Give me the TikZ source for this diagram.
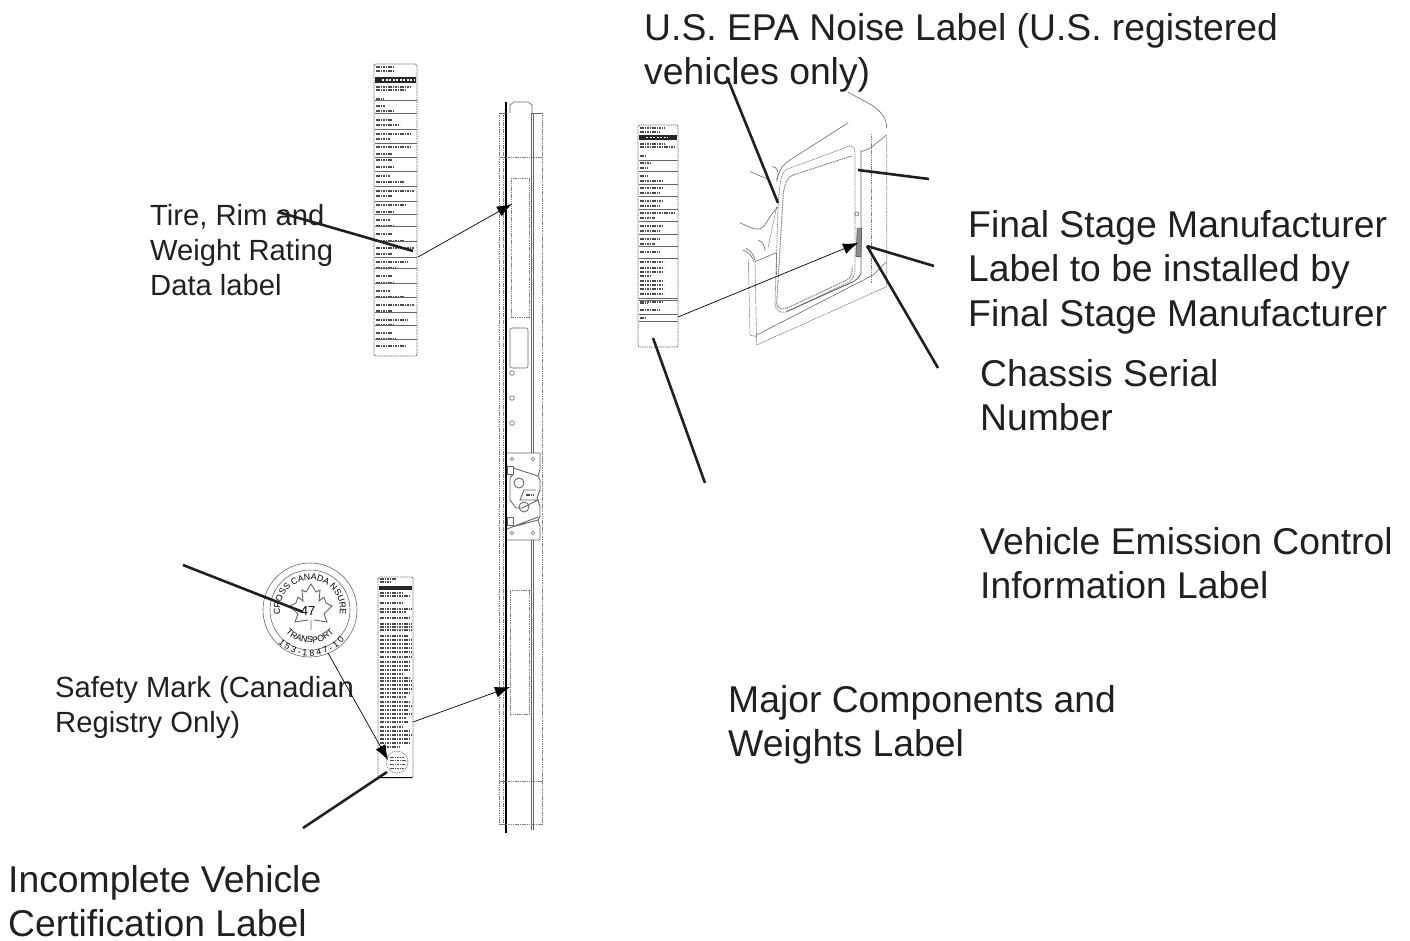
\documentclass[tikz,border=0pt]{standalone}
\usepackage{fontspec}
\setmainfont{Liberation Sans}
\usetikzlibrary{arrows.meta,decorations.text}
\definecolor{inkgrey}{HTML}{666666}
\definecolor{leaderblack}{HTML}{231F20}

\begin{document}
\begin{tikzpicture}[
  x=1pt, y=-1pt,
  biglbl/.style={anchor=north west, inner sep=0pt, align=left, font=\fontsize{37.3}{44.5}\selectfont, text=leaderblack},
  smalllbl/.style={anchor=north west, inner sep=0pt, align=left, font=\fontsize{29.2}{35}\selectfont, text=leaderblack},
  leader/.style={draw=leaderblack, line width=2.6pt},
  pointer/.style={draw=black, line width=.7pt, -{Latex[length=15pt,width=11pt]}},
  hair/.style={draw=inkgrey, line width=.6pt},
  dotline/.style={draw=black!50, line width=.7pt, dash pattern=on 1.5pt off .8pt},
  card/.style={draw=inkgrey, line width=.8pt, dash pattern=on 1.5pt off .8pt, rounded corners=2pt},
  inkmark/.style={draw=black!70, line width=1.5pt, dash pattern=on 1.6pt off .8pt},
  stamptxt/.style={decorate, decoration={text along path, text align=center, text={|\fontsize{8.8}{10}\selectfont|#1}}}
]
  \useasboundingbox (0,0) rectangle (1410,941);

  % tire, rim and weight card
  \draw[card] (374,64) rectangle (417,356);
  \fill[black!85] (375,77) rectangle (416,83);
  \draw[white, line width=1.6pt, dash pattern=on 2pt off 1.5pt] (382,80) -- (414,80);
  \foreach \cy/\cx in {67/395,71/393,87/410,90/405,99/384,106/385,111/394,120/392,125/400,134/412,139/390,147/410,154/392,160/392,167/394,176/390,182/404,191/414,196/392,205/406,212/394,220/390,226/394,234/392,241/404,248/414,254/392,262/408,268/396,276/392,283/394,291/390,297/404,305/414,311/392,320/408,325/394,333/392,339/396,346/405}
    \draw[inkmark] (376,\cy) -- (\cx,\cy);
  \foreach \ry in {100,113,129,143,157,171,186,201,214,226,241,257,268,283,297,312,325,339}
    \draw[hair] (375,\ry) -- (417,\ry);

  % major components card
  \draw[card] (638,125) rectangle (678,347);
  \fill[black!85] (639,135) rectangle (677,140);
  \draw[white, line width=1.2pt, dash pattern=on 2pt off 1.5pt] (646,137.5) -- (668,137.5);
  \foreach \cy/\cx in {128/665,132/660,144/665,147/674,156/645,163/651,168/648,176/648,181/662,188/662,193/660,201/663,206/660,213/675,218/655,226/662,231/660,239/660,244/655,252/660,262/664,268/664,272/664,276/650,281/664,285/664,289/664,294/664,302/662,303/648,310/660,318/646}
    \draw[inkmark] (640,\cy) -- (\cx,\cy);
  \foreach \ry in {160,171,184,196,209,221,234,246,258,298,300,314,321}
    \draw[hair] (639,\ry) -- (678,\ry);

  % incomplete vehicle card
  \draw[card] (378,577) rectangle (413,778);
  \fill[black!85] (379,586) rectangle (412,590);
  \foreach \cy/\cx in {579/396,582/392,593/403,596/411,603/404,609/412,612/406,618/411,624/412,627/412,630/412,636/408,640/412,644/412,648/412,652/412,657/412,662/410,666/411,670/411,674/404,678/411,681/412,685/412,689/412,693/410,697/406,702/410,706/412,710/408,714/412,718/406,722/408,727/404,731/410,735/412,739/410,743/410,747/400}
    \draw[inkmark] (380,\cy) -- (\cx,\cy);
  \draw[dotline, fill=white] (397,762) circle (11);
  \foreach \cy/\cx in {757/404,760/406,764/405,768/404}
    \draw[inkmark, line width=.8pt] (390,\cy) -- (\cx,\cy);
  \draw[draw=black, line width=1pt] (380,777) -- (412,777);

  % side rail
  \draw[line width=2pt] (506,102) -- (506,833);
  \foreach \rx in {499,503}
    \draw[dotline] (\rx,113) -- (\rx,824);
  \draw[hair] (531,113) -- (531,453) (531,540) -- (531,830);
  \draw[hair] (533,113) -- (533,453) (533,540) -- (533,830);
  \draw[dotline] (542,113) -- (542,824);
  \draw[hair] (510,113) -- (510,105) -- (514,102) -- (528,102) -- (532,105) -- (532,113);
  \draw[hair] (499,113) -- (506,113) (532,113) -- (542,113);
  \draw[dotline] (499,157) -- (542,157);
  \draw[dotline] (499,781) -- (542,781);
  \draw[dotline] (499,824) -- (542,824);
  \draw[dotline] (511,178) rectangle (529,317);
  \draw[hair, rounded corners=2pt] (510,328) rectangle (528,368);
  \draw[dotline] (510,590) rectangle (529,714);
  \foreach \hy in {373,398,423}
    \draw[hair] (512,\hy) circle (2.3);

  % hinge bracket on the rail
  \draw[hair, line width=.9pt] (507,453) -- (540,453) -- (540,470) -- (538,476) -- (507,466)
    (538,476) -- (540,480) -- (540,490) -- (537,498) -- (540,506) -- (540,516) -- (538,520) -- (512,527)
    (507,529) -- (538,517) (538,520) -- (540,526) -- (540,540) -- (507,540);
  \draw[hair, line width=.9pt] (510,478) -- (514,473) (510,478) -- (510,500) -- (516,508) -- (522,508) -- (530,504) -- (538,500) -- (520,500) -- (524,490) -- (536,490);
  \draw[hair, line width=.9pt] (519,483) circle (5);
  \draw[hair, line width=.9pt] (524,507) circle (5);
  \draw[hair, fill=white] (507,466) rectangle (513,474);
  \draw[hair, fill=white] (507,517) rectangle (513,525);
  \foreach \bx/\by in {512/459,533/459,512/533,533/533}
    \draw[hair] (\bx,\by) circle (1.8);
  \draw[inkmark, line width=1.2pt] (526,495) -- (534,495);

  % door and window
  \begin{scope}[shift={(620,60)}, x=.3333pt, y=-.3333pt]
    \draw[hair] (685,97) -- (755,135) .. controls (785,155) and (800,175) .. (800,205);
    \draw[hair] (685,188) -- (510,300) .. controls (490,312) and (480,325) .. (470,360);
    \draw[hair] (455,320) .. controls (470,320) and (480,330) .. (470,365);
    \draw[dotline] (690,258) -- (500,328) .. controls (480,338) and (480,380) .. (475,420) -- (465,730) .. controls (465,745) and (475,760) .. (495,757) -- (680,670) .. controls (700,660) and (705,645) .. (705,620) -- (705,280) .. controls (705,265) and (700,258) .. (690,258);
    \draw[draw=black!50, line width=1pt, dash pattern=on 1.5pt off .8pt] (695,288) -- (520,345) .. controls (500,352) and (495,370) .. (490,400) -- (470,730) .. controls (470,745) and (485,750) .. (500,745) -- (680,660) .. controls (692,655) and (697,640) .. (697,620);
    \draw[hair, line width=.9pt] (723,270) -- (723,640) .. controls (720,650) and (715,655) .. (700,665) -- (500,755);
    \draw[dotline] (753,222) -- (753,670);
    \draw[dotline] (800,230) -- (800,680) -- (410,855) -- (405,600);
    \draw[hair] (725,275) -- (750,265) -- (800,225);
    \draw[hair] (800,605) -- (760,645) -- (410,825);
    \draw[dotline] (385,600) -- (390,825) -- (410,830);
    \draw[hair] (405,605) -- (470,578);
    \draw[dotline] (470,578) -- (470,650);
    \draw[hair] (368,570) .. controls (385,575) and (398,590) .. (402,605);
    \draw[hair] (378,565) .. controls (392,572) and (402,585) .. (405,600);
    \draw[hair] (390,335) -- (445,358);
    \draw[hair] (360,488) .. controls (395,505) and (415,515) .. (430,500) .. controls (445,485) and (445,470) .. (475,440);
    \draw[hair] (415,540) .. controls (430,548) and (435,560) .. (435,572);
    \draw[dotline] (445,560) -- (470,440);
    \draw[hair] (710,462) circle (6);
    \draw[draw=inkgrey, fill=black!45, line width=.8pt] (712,505) -- (725,505) -- (723,590) -- (708,590) -- cycle;
  \end{scope}

  % canadian safety mark
  \draw[hair] (310,610) circle (47);
  \draw[hair] (310,610) circle (40);
  \draw[stamptxt={CROSS CANADA NSURE}] (310,610) ++(160:30) arc[start angle=160, end angle=380, radius=30];
  \draw[stamptxt={TRANSPORT}] (310,610) ++(142:33) arc[start angle=142, end angle=38, radius=33];
  \draw[stamptxt={1 5 3 - 1 8 4 7 - 1 0}] (310,610) ++(150:46) arc[start angle=150, end angle=25, radius=46];
  \draw[hair, line width=.9pt] (311,620) -- (311,630)
    (308,620) -- (295,622) -- (298,614) -- (290,606) -- (296,603) -- (298,597) -- (303,601) -- (302,590) -- (306,592) -- (311,584) -- (316,592) -- (320,590) -- (319,601) -- (324,597) -- (326,603) -- (332,606) -- (324,614) -- (327,622) -- (314,620);
  \node[inner sep=0pt, font=\fontsize{13}{13}\selectfont] (marknum) at (308,611) {47};

  % callout text
  \node[biglbl] (epatxt) at (644,13) {U.S. EPA Noise Label (U.S. registered\\vehicles only)};
  \node[biglbl] (finaltxt) at (968,210) {Final Stage Manufacturer\\Label to be installed by\\Final Stage Manufacturer};
  \node[biglbl] (serialtxt) at (980,359) {Chassis Serial\\Number};
  \node[biglbl] (emistxt) at (980,527) {Vehicle Emission Control\\Information Label};
  \node[biglbl] (majortxt) at (728,685) {Major Components and\\Weights Label};
  \node[biglbl] (incomptxt) at (8,865) {Incomplete Vehicle\\Certification Label};
  \node[smalllbl] (tiretxt) at (150,204.5) {Tire, Rim and\\Weight Rating\\Data label};
  \node[smalllbl] (safetytxt) at (55,676.5) {Safety Mark (Canadian\\Registry Only)};

  % leader and arrow ends
  \coordinate (tirefrom) at (278,212);
  \coordinate (tireto) at (413,251);
  \coordinate (tirecard) at (418,257);
  \coordinate (railtop) at (512,204);
  \coordinate (epafrom) at (727,77);
  \coordinate (epato) at (778,203);
  \coordinate (finalfrom) at (929,179);
  \coordinate (finalto) at (858,170);
  \coordinate (emisfrom) at (934,266);
  \coordinate (plate) at (867,246);
  \coordinate (serialfrom) at (938,368);
  \coordinate (majorfrom) at (705,483);
  \coordinate (majorto) at (653,338);
  \coordinate (majorcard) at (678,317);
  \coordinate (doorplate) at (858,243);
  \coordinate (markfrom) at (183,565);
  \coordinate (markto) at (303,612);
  \coordinate (markedge) at (328,653);
  \coordinate (cardspot) at (388,760);
  \coordinate (cardfrom) at (303,828);
  \coordinate (cardto) at (387,772);
  \coordinate (incard) at (413,722);
  \coordinate (railbot) at (510,687);

  \draw[leader] (tirefrom) -- (tireto);
  \draw[leader] (epafrom) -- (epato);
  \draw[leader] (finalfrom) -- (finalto);
  \draw[leader] (emisfrom) -- (plate);
  \draw[leader] (serialfrom) -- (plate);
  \draw[leader] (majorfrom) -- (majorto);
  \draw[leader] (markfrom) -- (markto);
  \draw[leader] (cardfrom) -- (cardto);
  \draw[pointer] (tirecard) -- (railtop);
  \draw[pointer] (majorcard) -- (doorplate);
  \draw[pointer] (markedge) -- (cardspot);
  \draw[pointer] (incard) -- (railbot);

\end{tikzpicture}
\end{document}
